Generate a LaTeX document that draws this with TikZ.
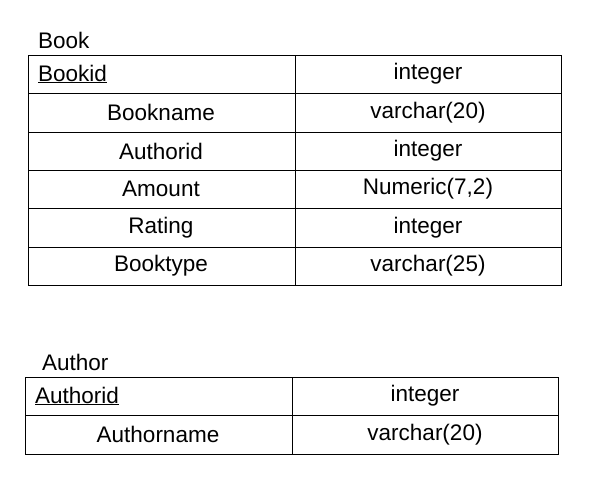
\documentclass[tikz,border=0pt]{standalone}
\usepackage{fontspec}
\setmainfont{Liberation Sans}
\begin{document}
\begin{tikzpicture}[x=1pt,y=-1pt,font=\fontsize{22.5}{26}\selectfont,
  cell/.style={anchor=center,inner sep=0pt},
  grid/.style={draw=black,line width=0.8pt}]
\useasboundingbox (0,0) rectangle (600,480);
% Book
\node[anchor=west,inner sep=0pt] (bt) at (38,40) {Book};
\draw[grid] (28,55) rectangle (561,285);
\draw[grid] (295,55) -- (295,285);
\foreach \y in {93,132,170,208,247} \draw[grid] (28,\y) -- (561,\y);
\node[anchor=west,inner sep=0pt] (b1) at (38,74) {\underline{Bookid}};
\node[cell] (b1t) at (428,74) {integer};
\node[cell] (b2) at (161,112.5) {Bookname};
\node[cell] (b2t) at (428,112.5) {varchar(20)};
\node[cell] (b3) at (161,151) {Authorid};
\node[cell] (b3t) at (428,151) {integer};
\node[cell] (b4) at (161,189) {Amount};
\node[cell] (b4t) at (428,189) {Numeric(7,2)};
\node[cell] (b5) at (161,227.5) {Rating};
\node[cell] (b5t) at (428,227.5) {integer};
\node[cell] (b6) at (161,266) {Booktype};
\node[cell] (b6t) at (428,266) {varchar(25)};
% Author
\node[anchor=west,inner sep=0pt] (at) at (42,362) {Author};
\draw[grid] (25,377) rectangle (558,454);
\draw[grid] (292,377) -- (292,454);
\draw[grid] (25,415) -- (558,415);
\node[anchor=west,inner sep=0pt] (a1) at (35,396) {\underline{Authorid}};
\node[cell] (a1t) at (425,396) {integer};
\node[cell] (a2) at (158,434.5) {Authorname};
\node[cell] (a2t) at (425,434.5) {varchar(20)};
\end{tikzpicture}
\end{document}
